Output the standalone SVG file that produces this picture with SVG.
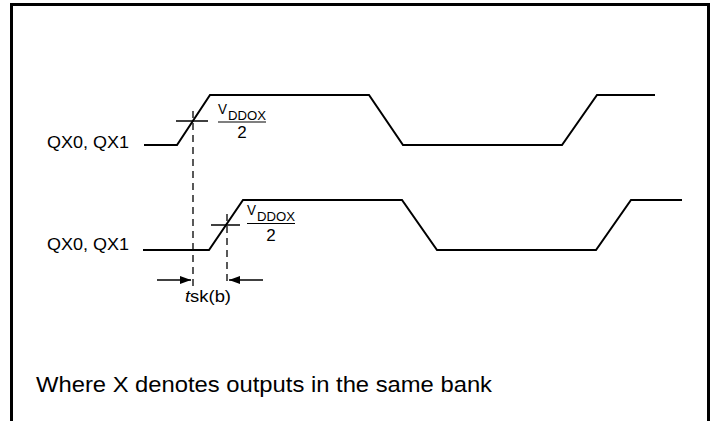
<svg xmlns="http://www.w3.org/2000/svg" width="717" height="421" viewBox="0 0 717 421">
<defs>
<style>
.t{font-family:"Liberation Sans",Arial,sans-serif;fill:#000}
.w{fill:none;stroke:#000;stroke-width:2;stroke-linejoin:miter}
.d{fill:none;stroke:#000;stroke-width:1.3;stroke-dasharray:7 5}
.x{stroke:#000;stroke-width:1.5}
.b{fill:none;stroke:#000;stroke-width:3}
</style>
<marker id="ah" viewBox="0 0 11 8" refX="11" refY="4" markerWidth="11" markerHeight="8" markerUnits="userSpaceOnUse" orient="auto">
<path d="M0,0 L11,4 L0,8 Z" fill="#000"/>
</marker>
</defs>
<rect width="717" height="421" fill="#fff"/>
<path class="b" d="M11.5,421 L11.5,4.5 L708.5,4.5 L708.5,421"/>

<g id="signal-top">
<text class="t" x="129" y="148" font-size="16" text-anchor="end" textLength="82" lengthAdjust="spacingAndGlyphs">QX0, QX1</text>
<path class="w" d="M144,145 L177,145 L210,95 L369,95 L403,145 L562,145 L597,95 L655,95"/>
<line class="x" x1="176" y1="121" x2="208" y2="121"/>
</g>

<g id="label-top">
<text class="t" x="218" y="114" font-size="15" textLength="9" lengthAdjust="spacingAndGlyphs">V</text>
<text class="t" x="228" y="119.5" font-size="12" textLength="38" lengthAdjust="spacingAndGlyphs">DDOX</text>
<line x1="218" y1="122" x2="266" y2="122" stroke="#000" stroke-width="1.2"/>
<text class="t" x="242" y="138" font-size="17" text-anchor="middle">2</text>
</g>

<g id="signal-bottom">
<text class="t" x="129" y="250" font-size="16" text-anchor="end" textLength="82" lengthAdjust="spacingAndGlyphs">QX0, QX1</text>
<path class="w" d="M143,250 L209,250 L243,200 L402,200 L437,250 L596,250 L631,200 L682,200"/>
<line class="x" x1="211" y1="225" x2="240" y2="225"/>
</g>

<g id="label-bottom">
<text class="t" x="247" y="215" font-size="15" textLength="9" lengthAdjust="spacingAndGlyphs">V</text>
<text class="t" x="257" y="220.5" font-size="12" textLength="38" lengthAdjust="spacingAndGlyphs">DDOX</text>
<line x1="247" y1="223.5" x2="295" y2="223.5" stroke="#000" stroke-width="1.2"/>
<text class="t" x="271" y="241" font-size="17" text-anchor="middle">2</text>
</g>

<g id="connectors">
<line class="d" x1="193" y1="111" x2="193" y2="286"/>
<line class="d" x1="227" y1="214" x2="227" y2="286"/>
<line x1="157" y1="280" x2="191" y2="280" stroke="#000" stroke-width="1.5" marker-end="url(#ah)"/>
<line x1="263" y1="280" x2="229" y2="280" stroke="#000" stroke-width="1.5" marker-end="url(#ah)"/>
</g>

<g id="skew-label">
<text class="t" x="185" y="302" font-size="16" textLength="46" lengthAdjust="spacingAndGlyphs"><tspan font-style="italic">t</tspan>sk(b)</text>
</g>

<g id="note">
<text class="t" x="36" y="392" font-size="22" textLength="456" lengthAdjust="spacingAndGlyphs">Where X denotes outputs in the same bank</text>
</g>
</svg>
